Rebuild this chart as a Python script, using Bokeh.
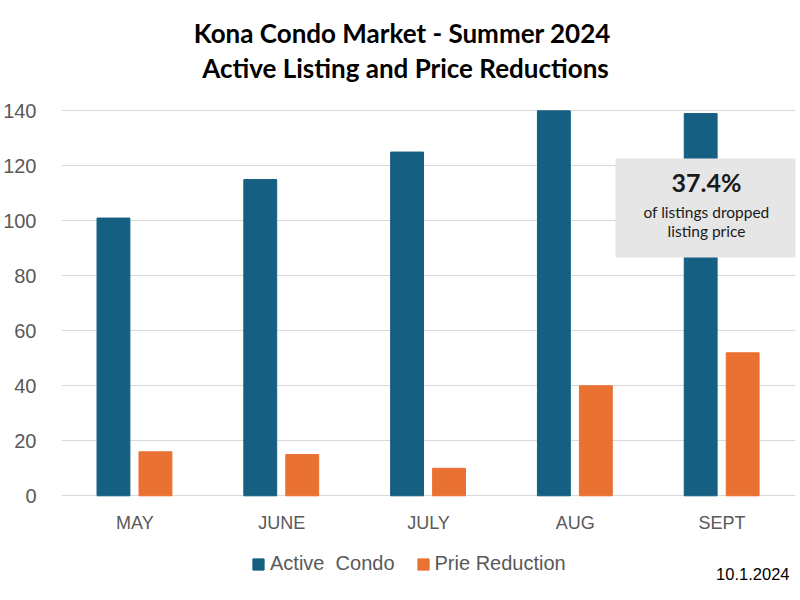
from bokeh.plotting import figure
from bokeh.models import (ColumnDataSource, Range1d, Label, Legend, LegendItem,
                          BoxAnnotation, FactorRange)
from bokeh.transform import dodge
from bokeh.embed import file_html
from bokeh.resources import INLINE

months = ["MAY", "JUNE", "JULY", "AUG", "SEPT"]
active_condo = [101, 115, 125, 140, 139]
price_reduction = [16, 15, 10, 40, 52]
y_ticks = [0, 20, 40, 60, 80, 100, 120, 140]

BLUE = "#156082"
ORANGE = "#E97132"
GRAY_TXT = "#595959"

W, H = 800, 600
# pixel layout: value 0 at y=495.3, value 140 at y=110.3 (from top)
PX_PER_UNIT = (495.3 - 110.3) / 140.0
y_lo = -(H - 495.3) / PX_PER_UNIT
y_hi = 140 + 110.3 / PX_PER_UNIT

src = ColumnDataSource(dict(month=months, active=active_condo, reduction=price_reduction))

p = figure(width=W, height=H, x_range=FactorRange(*months), y_range=Range1d(y_lo, y_hi),
           output_backend="svg", toolbar_location=None,
           min_border_left=59, min_border_right=5, min_border_top=0, min_border_bottom=0)
p.outline_line_color = None
p.background_fill_color = "white"

r1 = p.vbar(x=dodge("month", -0.146, range=p.x_range), top="active", bottom=0, width=0.224,
            source=src, fill_color=BLUE, line_color=BLUE)
r2 = p.vbar(x=dodge("month", 0.14, range=p.x_range), top="reduction", bottom=0, width=0.224,
            source=src, fill_color=ORANGE, line_color=ORANGE)

p.xgrid.grid_line_color = None
p.ygrid.grid_line_color = "#d9d9d9"
p.ygrid.ticker = y_ticks
p.yaxis.ticker = y_ticks

for ax in (p.xaxis[0], p.yaxis[0]):
    ax.axis_line_color = None
    ax.major_tick_line_color = None
    ax.minor_tick_line_color = None
    ax.major_label_text_color = GRAY_TXT
    ax.major_label_text_font = "Liberation Sans"
p.yaxis.major_label_text_font_size = "20px"
p.xaxis.major_label_text_font_size = "18px"
p.yaxis.major_label_standoff = 19
p.xaxis.major_label_standoff = 11
p.xaxis.fixed_location = 0

def lab(x, y, text, size, bold=False, font="Lato", color="black", align="center", level="overlay"):
    p.add_layout(Label(x=x, y=y, x_units="screen", y_units="screen", text=text,
                       text_align=align, text_baseline="middle", text_font=font,
                       text_font_style="bold" if bold else "normal",
                       text_font_size=size, text_color=color, level=level))

# Title
lab(344, 568, "Kona Condo Market -  Summer 2024", "26px", bold=True)
lab(344, 533, "Active Listing and Price Reductions", "26px", bold=True)

# Callout box
p.add_layout(BoxAnnotation(left=554, right=736, bottom=343, top=442,
                           left_units="screen", right_units="screen",
                           bottom_units="screen", top_units="screen",
                           fill_color="#e7e6e6", fill_alpha=1, line_color=None, level="overlay"))
lab(645, 419, "37.4%", "25px", bold=True, color="#1a1a1a")
lab(645, 389, "of listings dropped", "15.5px", color="#1a1a1a")
lab(645, 370, "listing price", "15.5px", color="#1a1a1a")

# Date
lab(728, 27, "10.1.2024", "16.5px", font="Liberation Sans", align="right")

legend = Legend(items=[LegendItem(label="Active  Condo", renderers=[r1]),
                       LegendItem(label="Prie Reduction", renderers=[r2])],
                orientation="horizontal", location=(190, 25),
                label_text_font="Liberation Sans", label_text_font_size="20px",
                label_text_color=GRAY_TXT, glyph_width=14, glyph_height=14,
                label_standoff=5, spacing=21, padding=0, margin=0,
                border_line_color=None, background_fill_alpha=0)
p.add_layout(legend, "center")

open("out.html", "w").write(file_html(p, INLINE))
